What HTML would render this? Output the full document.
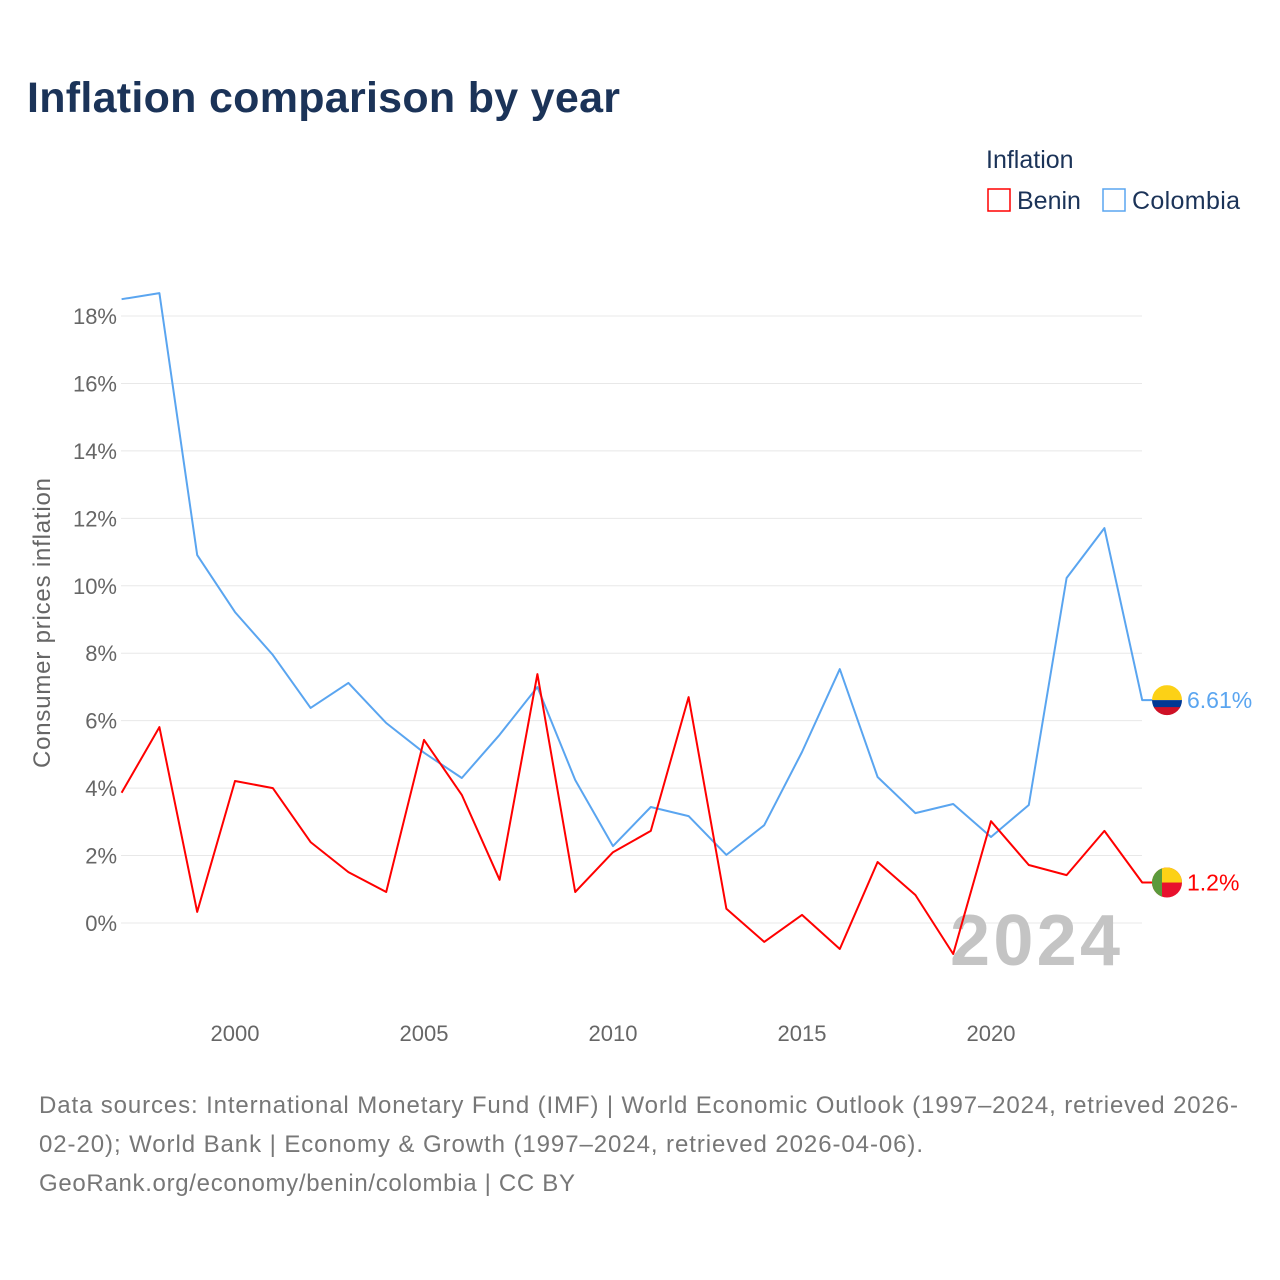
<!DOCTYPE html>
<html><head><meta charset="utf-8">
<style>
body{margin:0;background:#fff;font-family:"Liberation Sans",sans-serif;}
#wrap{position:relative;width:1280px;height:1280px;overflow:hidden;}
</style></head>
<body>
<div id="wrap">
<svg id="chart" width="1280" height="1280"></svg>
</div>
<script>
const years=[1997,1998,1999,2000,2001,2002,2003,2004,2005,2006,2007,2008,2009,2010,2011,2012,2013,2014,2015,2016,2017,2018,2019,2020,2021,2022,2023,2024];
const colombia=[18.5,18.68,10.91,9.22,7.95,6.38,7.12,5.93,5.05,4.30,5.58,7.0,4.24,2.28,3.44,3.17,2.02,2.9,5.07,7.53,4.33,3.26,3.53,2.55,3.5,10.23,11.71,6.61];
const benin=[3.86,5.81,0.33,4.21,4.0,2.4,1.51,0.92,5.43,3.8,1.28,7.38,0.92,2.1,2.73,6.7,0.42,-0.56,0.24,-0.77,1.81,0.83,-0.92,3.02,1.72,1.42,2.73,1.2];
const yTicks=[0,2,4,6,8,10,12,14,16,18];
const xTicks=[2000,2005,2010,2015,2020];
const NS="http://www.w3.org/2000/svg";
const svg=document.getElementById('chart');
const x=v=>121.6+(v-1997)*37.8;
const y=v=>923-v*33.72;
function mk(tag,attrs,text){const e=document.createElementNS(NS,tag);for(const k in attrs)e.setAttribute(k,attrs[k]);if(text!=null)e.textContent=text;svg.appendChild(e);return e;}
const F='"Liberation Sans",sans-serif';
let t=mk('text',{x:27,y:112,'font-size':43,'font-weight':'bold',fill:'#1b3358','font-family':F,textLength:593},'Inflation comparison by year');


t=mk('text',{x:986,y:168,'font-size':25,fill:'#1b3358','font-family':F},'Inflation');


let r=mk('rect',{x:988,y:189,width:22,height:22,fill:'none',stroke:'#ff0000','stroke-width':1.5});


t=mk('text',{x:1017,y:209,'font-size':25,fill:'#1b3358','font-family':F},'Benin');


r=mk('rect',{x:1103,y:189,width:22,height:22,fill:'none',stroke:'#5aa5f0','stroke-width':1.5});


t=mk('text',{x:1132,y:209,'font-size':25,fill:'#1b3358','font-family':F,textLength:108},'Colombia');


yTicks.forEach(v=>{
 const g=mk('line',{x1:121,x2:1142,y1:y(v),y2:y(v),stroke:'#e8e8e8','stroke-width':1});
 
 
 const l=mk('text',{x:117,y:y(v)+8,'font-size':22,fill:'#666','text-anchor':'end','font-family':F},v+'%');
 
 
});
xTicks.forEach(v=>{
 const l=mk('text',{x:x(v),y:1041,'font-size':22,fill:'#666','text-anchor':'middle','font-family':F},String(v));
 
 
});
t=mk('text',{x:0,y:0,'font-size':24,fill:'#666','text-anchor':'middle','font-family':F,textLength:290,transform:'translate(50,623) rotate(-90)'},'Consumer prices inflation');


t=mk('text',{x:1120,y:965,'font-size':72,'font-weight':'bold',fill:'#c4c4c4','text-anchor':'end','font-family':F,textLength:170},'2024');


function line(vals,color,name){
 const d=vals.map((v,i)=>(i?'L':'M')+x(years[i]).toFixed(1)+','+y(v).toFixed(1)).join('');
 const last=vals[vals.length-1];
 const p=mk('path',{d:d+'L'+(x(years[years.length-1])+10)+','+y(last),fill:'none',stroke:color,'stroke-width':2,'stroke-linejoin':'round'});
 
 
}
line(colombia,'#5aa5f0','colombia');
line(benin,'#ff0000','benin');
const cy=y(colombia[colombia.length-1]), by=y(benin[benin.length-1]);
let g=document.createElementNS(NS,'g');svg.appendChild(g);


g.innerHTML=`<clipPath id="c1"><circle cx="1167" cy="${cy}" r="15"/></clipPath><g clip-path="url(#c1)"><rect x="1150" y="${cy-15}" width="34" height="15" fill="#fcd116"/><rect x="1150" y="${cy}" width="34" height="8" fill="#003893"/><rect x="1150" y="${cy+7}" width="34" height="9" fill="#ce1126"/></g>`;
t=mk('text',{x:1187,y:cy+8,'font-size':23,fill:'#5aa5f0','font-family':F},colombia[colombia.length-1]+'%');


g=document.createElementNS(NS,'g');svg.appendChild(g);


g.innerHTML=`<clipPath id="c2"><circle cx="1167" cy="${by}" r="15"/></clipPath><g clip-path="url(#c2)"><rect x="1150" y="${by-15}" width="34" height="30" fill="#e8112d"/><rect x="1150" y="${by-15}" width="34" height="15" fill="#fcd116"/><rect x="1150" y="${by-15}" width="12" height="30" fill="#5b9a3c"/></g>`;
t=mk('text',{x:1187,y:by+8,'font-size':23,fill:'#ff0000','font-family':F},benin[benin.length-1]+'%');


const notes=['Data sources: International Monetary Fund (IMF) | World Economic Outlook (1997–2024, retrieved 2026-','02-20); World Bank | Economy & Growth (1997–2024, retrieved 2026-04-06).','GeoRank.org/economy/benin/colombia | CC BY'];
const noteLens=[1199,884,536];
notes.forEach((s,i)=>{
 const l=mk('text',{x:39,y:1113+i*39,'font-size':24,fill:'#777','font-family':F,textLength:noteLens[i]},s);
 
 
});
</script>
</body></html>
